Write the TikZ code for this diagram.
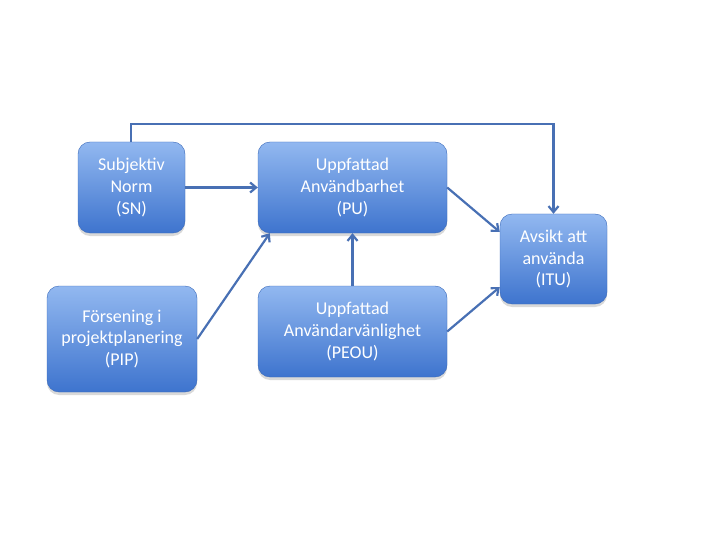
\documentclass[tikz,border=0pt]{standalone}
\usepackage{fontspec}
\setmainfont{Carlito}
\usepackage{tikz}
\usetikzlibrary{arrows.meta,calc,positioning,shadows}
\definecolor{boxtop}{RGB}{146,184,240}
\definecolor{boxbot}{RGB}{62,116,206}
\definecolor{linkblue}{RGB}{72,112,180}
\tikzset{
  box/.style  = {rounded corners=12pt, top color=boxtop, bottom color=boxbot,
                 draw=boxbot!90!black, line width=0.4pt, text=white, align=center,
                 font=\fontsize{18}{21.7}\selectfont, inner sep=2pt,
                 drop shadow={opacity=0.3, shadow xshift=0pt, shadow yshift=-3pt}},
  link/.style = {-{Straight Barb[length=6pt,width=10pt]}, line width=2.2pt, draw=linkblue},
}

\begin{document}
\begin{tikzpicture}[x=1pt,y=-1pt]
  \useasboundingbox (0,0) rectangle (720,540);
  % factors
  \node[box, minimum width=107pt, minimum height=91pt] (sn) at (131.5,187.5) {Subjektiv\\Norm\\(SN)};
  \node[box, minimum width=189pt, minimum height=91pt] (pu) at (352.5,187.5) {Uppfattad\\Användbarhet\\(PU)};
  \node[box, minimum width=107pt, minimum height=90pt] (itu) at (553.5,259) {Avsikt att\\använda\\(ITU)};
  \node[box, minimum width=150pt, minimum height=106pt] (pip) at (122,339) {Försening i\\projektplanering\\(PIP)};
  \node[box, minimum width=189pt, minimum height=91pt] (peou) at (352.5,331.5) {Uppfattad\\Användarvänlighet\\(PEOU)};
  \coordinate (top) at (131,124);
  % links
  \draw[link] (sn.north -| top) -- (top) -| (itu.north);
  \draw[link] (sn.east) -- (pu.west);
  \draw[link] (pu.east) -- ([yshift=27pt]itu.west);
  \draw[link] (peou.east) -- ([yshift=-28pt]itu.west);
  \draw[link] (peou.north) -- (pu.south);
  \draw[link] (pip.east) -- ([xshift=12pt]pu.south west);
\end{tikzpicture}
\end{document}
